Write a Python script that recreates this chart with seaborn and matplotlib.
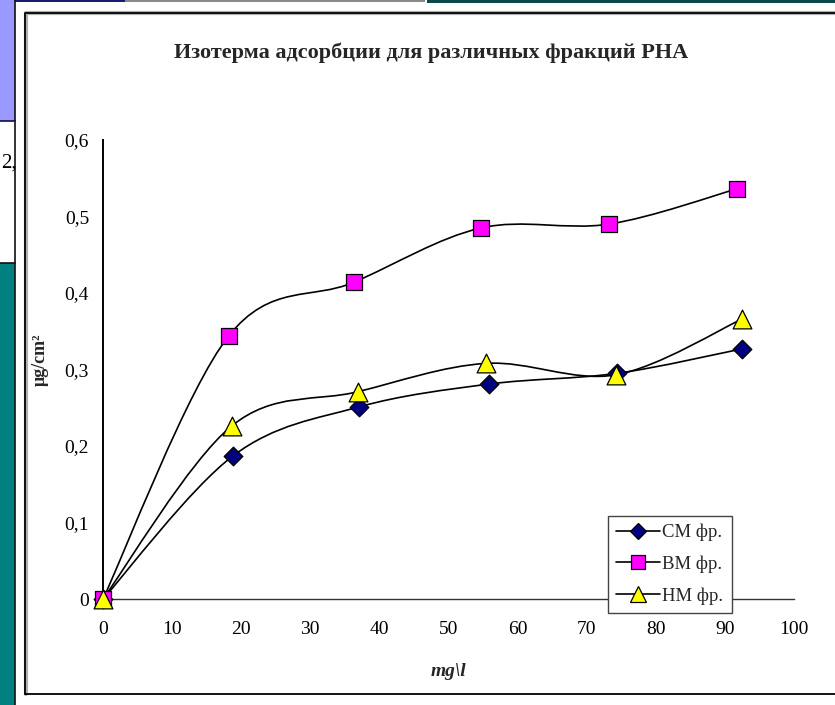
import numpy as np
import matplotlib
matplotlib.use("Agg")
import matplotlib.pyplot as plt
import seaborn as sns
from matplotlib.path import Path
from matplotlib.patches import PathPatch, Rectangle
from matplotlib.lines import Line2D

# ---- data ----
title = "Изотерма адсорбции для различных фракций PHA"
series_names = ["СМ фр.", "ВМ фр.", "НМ фр."]
cm_x = [0, 18.8, 37.0, 55.9, 74.4, 92.5]
cm_y = [0, 0.187, 0.251, 0.281, 0.295, 0.327]
bm_x = [0, 18.2, 36.3, 54.7, 73.2, 91.7]
bm_y = [0, 0.344, 0.414, 0.485, 0.490, 0.536]
hm_x = [0, 18.6, 36.9, 55.4, 74.2, 92.5]
hm_y = [0, 0.226, 0.271, 0.308, 0.293, 0.366]
x_ticks = [0, 10, 20, 30, 40, 50, 60, 70, 80, 90, 100]
y_ticks = [0, 0.1, 0.2, 0.3, 0.4, 0.5, 0.6]
y_tick_labels = ["0", "0,1", "0,2", "0,3", "0,4", "0,5", "0,6"]
x_label = "mg\\l"
y_label = "μg/cm²"

sns.set_theme(style="white")
plt.rcParams["font.family"] = ["Liberation Serif", "DejaVu Serif"]

W, H = 835, 705
fig = plt.figure(figsize=(W / 100, H / 100), dpi=100)
fig.patch.set_facecolor("white")


def fx(px):
    return px / W


def fy(py):
    return 1 - py / H


# ---- slide background decorations ----
deco = [
    (0, 0, 15, 121, "#9999FF"),
    (0, 121, 15, 142, "white"),
    (0, 263, 15, 442, "#008080"),
    (15, 0, 110, 2, "#1a1a6e"),
    (125, 0, 300, 2, "#8a8a8a"),
    (427, 0, 408, 3, "#0b4a4a"),
]
for x0, y0, w, h, c in deco:
    fig.patches.append(Rectangle((fx(x0), fy(y0 + h)), w / W, h / H,
                                 transform=fig.transFigure, facecolor=c,
                                 edgecolor="none", zorder=0))
fig.add_artist(Line2D([fx(0), fx(15)], [fy(121), fy(121)], color="#101040", lw=1.2, transform=fig.transFigure))
fig.add_artist(Line2D([fx(0), fx(15)], [fy(263), fy(263)], color="#101010", lw=1.2, transform=fig.transFigure))
fig.add_artist(Line2D([fx(15), fx(15)], [fy(0), fy(705)], color="#101010", lw=1.2, transform=fig.transFigure))
fig.text(fx(1), fy(163), "2,", ha="left", va="center", fontsize=15, color="black")

# chart frame
fig.add_artist(Line2D([fx(26), fx(26), fx(835)], [fy(694), fy(13), fy(13)],
                      color="#b0b0b0", lw=3.0, transform=fig.transFigure))
fig.add_artist(Line2D([fx(25), fx(25), fx(835)], [fy(694), fy(13), fy(13)],
                      color="black", lw=1.3, transform=fig.transFigure))
fig.add_artist(Line2D([fx(25), fx(835)], [fy(694), fy(694)],
                      color="black", lw=1.3, transform=fig.transFigure))

# ---- axes ----
ax = fig.add_axes([fx(103), fy(599), (794 - 103) / W, (599 - 140) / H])
ax.set_facecolor("none")


def smooth_path(xs, ys):
    pts = np.column_stack([xs, ys]).astype(float)
    n = len(pts)
    verts = [pts[0]]
    codes = [Path.MOVETO]
    for i in range(n - 1):
        p0 = pts[i - 1] if i > 0 else pts[i]
        p1 = pts[i]
        p2 = pts[i + 1]
        p3 = pts[i + 2] if i + 2 < n else pts[i + 1]
        verts += [p1 + (p2 - p0) / 6.0, p2 - (p3 - p1) / 6.0, p2]
        codes += [Path.CURVE4] * 3
    return Path(verts, codes)


specs = [
    (cm_x, cm_y, "D", "#000080", 9.5),
    (bm_x, bm_y, "s", "#FF00FF", 11),
    (hm_x, hm_y, "^", "#FFFF00", 13.5),
]
for xs, ys, m, c, s in specs:
    ax.add_patch(PathPatch(smooth_path(xs, ys), facecolor="none",
                           edgecolor="black", lw=1.2, zorder=2, clip_on=False))
handles = []
for (xs, ys, m, c, s), name in zip(specs, series_names):
    sns.scatterplot(x=xs, y=ys, marker=m, color=c, s=s ** 2,
                    edgecolor="black", linewidth=0.9, zorder=3,
                    clip_on=False, ax=ax, legend=False)
    handles.append(Line2D([0], [0], color="black", lw=1.2, marker=m,
                          markerfacecolor=c, markeredgecolor="black",
                          markeredgewidth=0.9, markersize=s * 0.9, label=name))

ax.set_xlim(0, 100)
ax.set_ylim(0, 0.6)
ax.set_xticks(x_ticks)
ax.set_xticklabels([str(t) for t in x_ticks])
ax.set_yticks(y_ticks)
ax.set_yticklabels(y_tick_labels)
ax.tick_params(axis="both", direction="out", length=6, width=1.0,
               color="#333333", labelsize=14, labelcolor="black")
ax.tick_params(axis="x", pad=10)
ax.tick_params(axis="y", pad=4)
for side in ["top", "right"]:
    ax.spines[side].set_visible(False)
ax.spines["left"].set_color("black")
ax.spines["left"].set_linewidth(1.4)
ax.spines["bottom"].set_color("#333333")
ax.spines["bottom"].set_linewidth(1.0)

ax.set_xlabel(x_label, fontsize=14, fontweight="bold", fontstyle="italic", labelpad=18)
ax.set_ylabel(y_label, fontsize=13, fontweight="bold")
ax.yaxis.set_label_coords((49 - 103) / (794 - 103), (599 - 360) / (599 - 140))

leg = ax.legend(handles=handles, loc="lower left",
                bbox_to_anchor=((608 - 103) / 691, (599 - 613) / 459),
                frameon=True, fancybox=False, framealpha=1, edgecolor="#444444",
                fontsize=13.5, handlelength=2.3, handletextpad=0.15,
                borderpad=0.45, labelspacing=0.75, borderaxespad=0)
leg.get_frame().set_linewidth(1.0)

fig.text(fx(431), fy(53), title, ha="center", va="center", fontsize=16, fontweight="bold")

fig.savefig("out.png", dpi=100, facecolor=fig.get_facecolor())
